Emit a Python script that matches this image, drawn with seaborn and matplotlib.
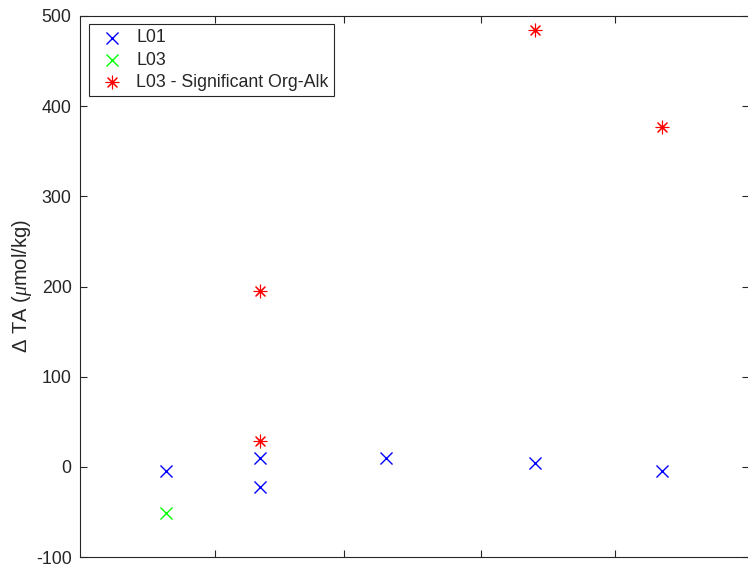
import matplotlib
matplotlib.use("Agg")
import matplotlib.pyplot as plt
import seaborn as sns
import pandas as pd

# Data (x = day of year, y = Delta TA in umol/kg)
l01_x = [20, 41, 41, 69.6, 103, 131.8]
l01_y = [-5, 10, -22, 10, 4, -5]
l03_x = [20]
l03_y = [-51]
sig_x = [41, 41, 103, 131.8]
sig_y = [195, 29, 485, 377]

y_ticks = [-100, 0, 100, 200, 300, 400, 500]
x_ticks = [31, 60, 91, 121]

sns.set_theme(style="white")
plt.rcParams['font.family'] = ['Liberation Sans', 'DejaVu Sans']
plt.rcParams['mathtext.fontset'] = 'custom'
plt.rcParams['mathtext.it'] = 'Liberation Serif:italic'
plt.rcParams['mathtext.rm'] = 'Liberation Sans'
plt.rcParams['axes.unicode_minus'] = False

fig = plt.figure(figsize=(7.48, 5.65), dpi=100)
ax = fig.add_axes([80/748, 1-557/565, 669/748, 541/565])

gray = '#262626'
asterisk = (8, 2, 0)

df1 = pd.DataFrame({'x': l01_x, 'y': l01_y})
df2 = pd.DataFrame({'x': l03_x, 'y': l03_y})
df3 = pd.DataFrame({'x': sig_x, 'y': sig_y})

sns.scatterplot(data=df1, x='x', y='y', marker='x', color='#0000ff', s=75,
                linewidth=1.0, ax=ax, label='L01')
sns.scatterplot(data=df2, x='x', y='y', marker='x', color='#00ff00', s=75,
                linewidth=1.0, ax=ax, label='L03')
sns.scatterplot(data=df3, x='x', y='y', marker=asterisk, color='#ff0000', s=85,
                linewidth=0.8, ax=ax, label='L03 - Significant Org-Alk')

ax.set_xlim(0.55, 151.3)
ax.set_ylim(-100, 500)
ax.set_yticks(y_ticks)
ax.set_xticks(x_ticks)
ax.tick_params(axis='both', direction='in', length=5, width=0.8, color=gray,
               labelcolor=gray, labelsize=12.8, top=True, right=True,
               bottom=True, left=True, labelbottom=False, pad=6)
ax.set_xlabel('')
ax.set_ylabel(r'$\Delta$ TA ($\mu$mol/kg)', fontsize=14.5, color=gray, labelpad=1.5)
for sp in ax.spines.values():
    sp.set_color(gray)
    sp.set_linewidth(0.8)
    sp.set_visible(True)

leg = ax.legend(loc='upper left', bbox_to_anchor=(9/669, 1-8/541), frameon=True,
                fancybox=False, edgecolor='#262626', framealpha=1, fontsize=12.8,
                borderaxespad=0, handletextpad=0.4, borderpad=0.3,
                labelspacing=0.3, handlelength=1.95)
leg.get_frame().set_linewidth(0.8)

fig.savefig('out.png', dpi=100)
